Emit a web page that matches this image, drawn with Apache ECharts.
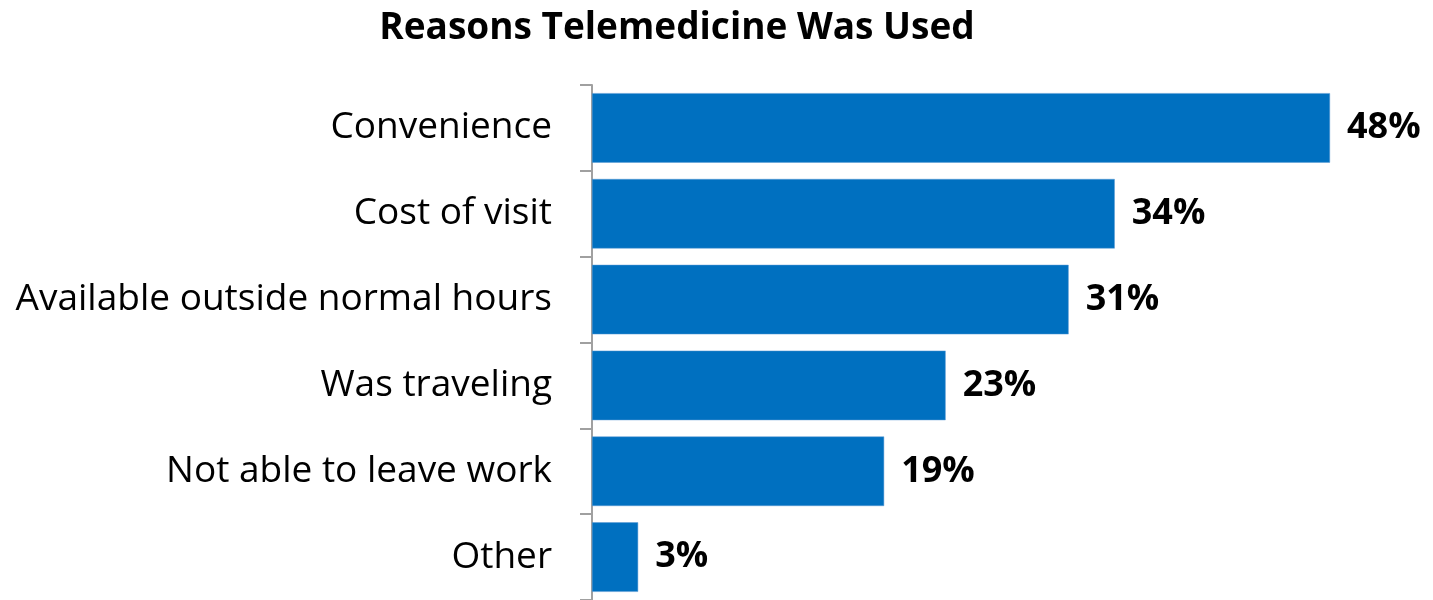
<!DOCTYPE html>
<html>
<head>
<meta charset="utf-8">
<script src="https://cdn.jsdelivr.net/npm/echarts@6/dist/echarts.min.js"></script>
<style>
  html, body { margin: 0; padding: 0; background: #fff; }
  #chart { width: 1433px; height: 600px; }
</style>
</head>
<body>
<div id="chart"></div>
<script>
// Survey: reasons respondents gave for using telemedicine (percent)
const categories = [
  'Convenience',
  'Cost of visit',
  'Available outside normal hours',
  'Was traveling',
  'Not able to leave work',
  'Other'
];
const shares = [48, 34, 31, 23, 19, 3];
const titleText = 'Reasons Telemedicine Was Used';

const chart = echarts.init(document.getElementById('chart'));
chart.setOption({
  animation: false,
  title: {
    text: titleText,
    left: 672,
    textAlign: 'center',
    top: 5,
    textStyle: {
      fontFamily: 'Open Sans',
      fontWeight: 'bold',
      fontSize: 37,
      color: '#000'
    }
  },
  grid: { left: 592, top: 85, width: 738, height: 519 },
  xAxis: {
    type: 'value',
    min: 0,
    max: 48,
    show: false
  },
  yAxis: {
    type: 'category',
    data: categories,
    inverse: true,
    axisLine: { show: true, lineStyle: { color: '#a0a0a0', width: 2 } },
    axisTick: { show: true, length: 12, lineStyle: { color: '#a0a0a0', width: 2 } },
    axisLabel: {
      margin: 40,
      fontFamily: 'Open Sans',
      fontSize: 37,
      color: '#000'
    }
  },
  series: [{
    type: 'bar',
    data: shares,
    barCategoryGap: '19%',
    itemStyle: { color: '#0070C0', borderColor: '#5b9bd5', borderWidth: 0.5 },
    label: {
      show: true,
      position: 'right',
      distance: 17,
      formatter: p => p.value + '%',
      fontFamily: 'Open Sans',
      fontWeight: 'bold',
      fontSize: 36,
      color: '#000'
    }
  }]
});
</script>
</body>
</html>
